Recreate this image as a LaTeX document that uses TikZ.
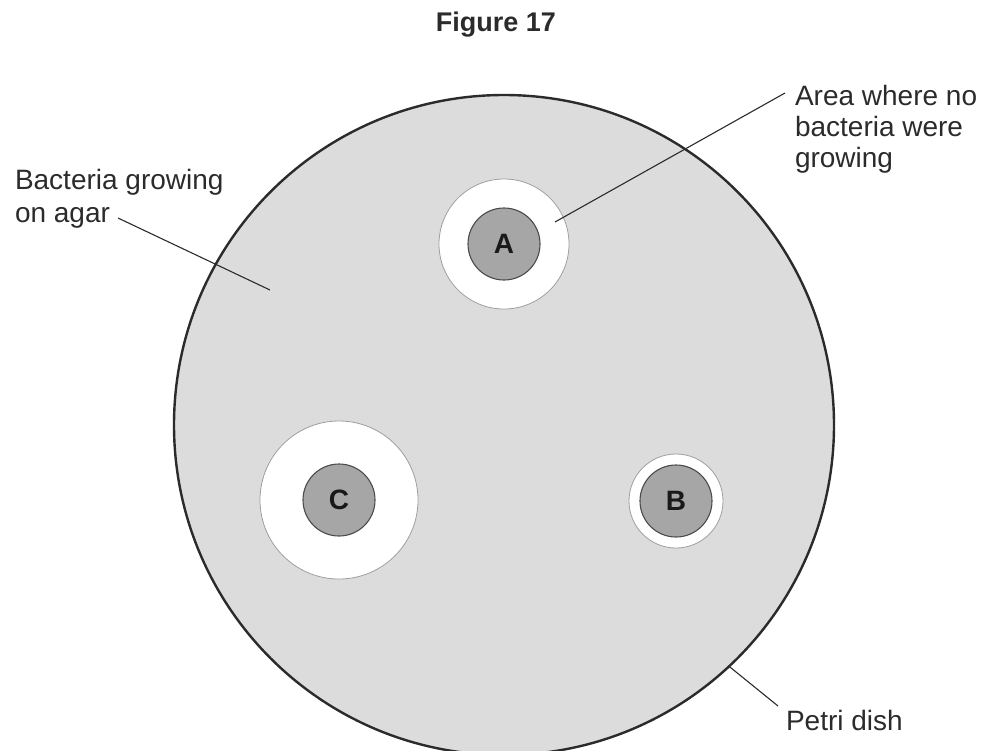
\documentclass[tikz,border=0pt]{standalone}
\usepackage{fontspec}
\setmainfont{Liberation Sans}
\definecolor{agar}{HTML}{DCDCDC}
\definecolor{discgray}{HTML}{A6A6A6}
\definecolor{ink}{HTML}{2B2B2B}
\begin{document}
\begin{tikzpicture}[x=1pt,y=-1pt,
  every node/.style={inner sep=0pt, outer sep=0pt, text=ink},
  lbl/.style={font=\fontsize{28}{31}\selectfont, align=left, anchor=north west},
  dish/.style={circle, draw=ink, line width=2.4pt, fill=agar},
  clearzone/.style={circle, draw=gray!75, line width=0.8pt, fill=white},
  disc/.style={circle, draw=ink!85, line width=1.1pt, fill=discgray, minimum size=72pt,
    font=\bfseries\fontsize{28}{28}\selectfont, text=black!90},
  leader/.style={draw=ink, line width=1.1pt}]
\useasboundingbox (0,0) rectangle (987,750);
\clip (0,0) rectangle (987,750);

% title
\node[font=\bfseries\fontsize{27}{27}\selectfont, anchor=base] (title) at (496,31) {Figure 17};

% petri dish
\node[dish, minimum size=660pt] (dish) at (504,425) {};

% clear zones and discs
\node[clearzone, minimum size=130pt] (zoneA) at (504,244) {};
\node[disc] (A) at (504,244) {A};
\node[clearzone, minimum size=158pt] (zoneC) at (339,500) {};
\node[disc] (C) at (339,500) {C};
\node[clearzone, minimum size=94pt] (zoneB) at (676,501) {};
\node[disc] (B) at (676,501) {B};

% labels
\node[lbl, font=\fontsize{28}{33}\selectfont] (bacLbl) at (15,169) {Bacteria growing\\on agar};
\node[lbl] (areaLbl) at (795,85) {Area where no\\bacteria were\\growing};
\node[lbl, anchor=base west] (petriLbl) at (786,730) {Petri dish};

% leader lines
\coordinate (bacStart) at (118,218);
\coordinate (bacTip) at (270,290);
\draw[leader] (bacStart) -- (bacTip);
\coordinate (areaStart) at (785,93);
\coordinate (areaTip) at (555,222);
\draw[leader] (areaStart) -- (areaTip);
\coordinate (petriEnd) at (778,706);
\draw[leader] (dish.-47) -- (petriEnd);
\end{tikzpicture}
\end{document}
